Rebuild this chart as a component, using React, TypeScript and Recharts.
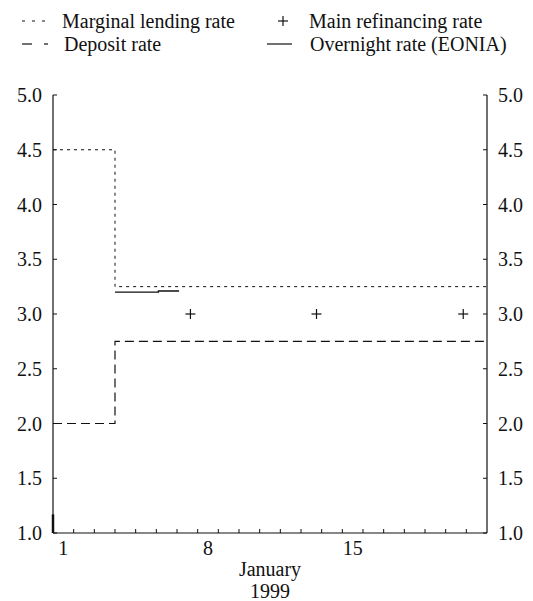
import React from 'react';
import { ComposedChart, Line, Scatter, XAxis, YAxis, ReferenceLine } from 'recharts';

// day 0 = start of 1 January 1999, one unit per day
const dayBoundaries = [0, 1, 2, 3, 4, 5, 6, 7, 8, 9, 10, 11, 12, 13, 14, 15, 16, 17, 18, 19, 20, 21];
const dayLabelPos = [0.5, 7.5, 14.5];
const dayLabels = ['1', '8', '15'];

const rateTicks = [1.0, 1.5, 2.0, 2.5, 3.0, 3.5, 4.0, 4.5, 5.0];

const marginalDays = [0, 3, 21];
const marginalRates = [4.5, 3.25, 3.25];

const depositDays = [0, 3, 21];
const depositRates = [2.0, 2.75, 2.75];

const mroDays = [6.65, 12.75, 19.85];
const mroRates = [3.0, 3.0, 3.0];

const eoniaDays = [3, 5.1, 6.1];
const eoniaRates = [3.2, 3.21, 3.21];

const zip = (xs: number[], ys: number[]) => xs.map((d, i) => ({ day: d, rate: ys[i] }));

const marginalData = zip(marginalDays, marginalRates);
const depositData = zip(depositDays, depositRates);
const mroData = zip(mroDays, mroRates);
const eoniaData = zip(eoniaDays, eoniaRates);

const FONT = 'Liberation Serif, DejaVu Serif, Noto Serif, serif';
const INK = '#111';

const LeftTick = (props: any) => {
  const { x, y, payload } = props;
  return (
    <g>
      <line x1={x + 11} x2={x + 15} y1={y} y2={y} stroke={INK} strokeWidth={1} />
      <text x={x} y={y} dy={7} textAnchor="end" fontFamily={FONT} fontSize={20} fill={INK}>
        {payload.value.toFixed(1)}
      </text>
    </g>
  );
};

const RightTick = (props: any) => {
  const { x, y, payload } = props;
  return (
    <g>
      <line x1={x - 11} x2={x - 15} y1={y} y2={y} stroke={INK} strokeWidth={1} />
      <text x={x} y={y} dy={7} textAnchor="start" fontFamily={FONT} fontSize={20} fill={INK}>
        {payload.value.toFixed(1)}
      </text>
    </g>
  );
};

const DayTick = (props: any) => {
  const { x, y, payload } = props;
  const v = payload.value;
  const li = dayLabelPos.indexOf(v);
  return (
    <g>
      {Number.isInteger(v) && v > 0 && v < 21 && (
        <line x1={x} x2={x} y1={y} y2={y - 4} stroke={INK} strokeWidth={1} />
      )}
      {li >= 0 && (
        <text x={x} y={y + 22} textAnchor="middle" fontFamily={FONT} fontSize={20} fill={INK}>
          {dayLabels[li]}
        </text>
      )}
    </g>
  );
};

const Plus = (props: any) => {
  const { cx, cy } = props;
  return (
    <g>
      <line x1={cx - 5} x2={cx + 5} y1={cy} y2={cy} stroke={INK} strokeWidth={1.2} />
      <line x1={cx} x2={cx} y1={cy - 5} y2={cy + 5} stroke={INK} strokeWidth={1.2} />
    </g>
  );
};

const MonthLabel = (props: any) => {
  const { viewBox } = props;
  const cx = viewBox.x + viewBox.width / 2;
  return (
    <g>
      <text x={cx} y={viewBox.y + 43} textAnchor="middle" fontFamily={FONT} fontSize={20} fill={INK}>
        January
      </text>
      <text x={cx} y={viewBox.y + 65} textAnchor="middle" fontFamily={FONT} fontSize={20} fill={INK}>
        1999
      </text>
    </g>
  );
};

const LegendBox = () => (
  <svg width={533} height={70} style={{ position: 'absolute', left: 0, top: 0 }}>
    <g fontFamily={FONT} fontSize={20} fill={INK}>
      <line x1={22} x2={50} y1={21} y2={21} stroke={INK} strokeWidth={1} strokeDasharray="3 7" />
      <text x={62} y={28}>Marginal lending rate</text>
      <line x1={278} x2={288} y1={21} y2={21} stroke={INK} strokeWidth={1.2} />
      <line x1={283} x2={283} y1={16} y2={26} stroke={INK} strokeWidth={1.2} />
      <text x={309} y={28}>Main refinancing rate</text>
      <line x1={22} x2={32} y1={44} y2={44} stroke={INK} strokeWidth={1.2} />
      <line x1={44} x2={48} y1={44} y2={44} stroke={INK} strokeWidth={1.2} />
      <text x={64} y={51}>Deposit rate</text>
      <line x1={267} x2={292} y1={44} y2={44} stroke={INK} strokeWidth={1.2} />
      <text x={310} y={51}>Overnight rate (EONIA)</text>
    </g>
  </svg>
);

export default function App() {
  return (
    <div style={{ position: 'absolute', left: 0, top: 0, width: 533, height: 601, background: '#fff', fontFamily: FONT }}>
      <ComposedChart width={533} height={601} margin={{ top: 95, right: 0, bottom: 0, left: 0 }}>
        <XAxis
          dataKey="day"
          type="number"
          domain={[0, 21]}
          ticks={[...dayBoundaries, ...dayLabelPos].sort((a, b) => a - b)}
          interval={0}
          height={68}
          tickSize={0}
          tickMargin={0}
          tickLine={false}
          tick={<DayTick />}
          axisLine={{ stroke: INK, strokeWidth: 1.2 }}
          allowDuplicatedCategory={false}
          label={<MonthLabel />}
        />
        <YAxis
          yAxisId="left"
          type="number"
          domain={[1, 5]}
          ticks={rateTicks}
          width={53}
          tickSize={0}
          tickMargin={11}
          tickLine={false}
          tick={<LeftTick />}
          axisLine={{ stroke: INK, strokeWidth: 1.2 }}
        />
        <YAxis
          yAxisId="right"
          orientation="right"
          type="number"
          domain={[1, 5]}
          ticks={rateTicks}
          width={46}
          tickSize={0}
          tickMargin={11}
          tickLine={false}
          tick={<RightTick />}
          axisLine={{ stroke: INK, strokeWidth: 1.2 }}
        />
        <ReferenceLine
          yAxisId="left"
          segment={[{ x: 0, y: 1.0 }, { x: 0, y: 1.17 }]}
          stroke={INK}
          strokeWidth={2.5}
        />
        <Line
          yAxisId="left"
          data={marginalData}
          dataKey="rate"
          type="stepAfter"
          stroke={INK}
          strokeWidth={1}
          strokeDasharray="3 4"
          dot={false}
          isAnimationActive={false}
        />
        <Line
          yAxisId="right"
          data={depositData}
          dataKey="rate"
          type="stepAfter"
          stroke={INK}
          strokeWidth={1.2}
          strokeDasharray="9 5"
          dot={false}
          isAnimationActive={false}
        />
        <Line
          yAxisId="left"
          data={eoniaData}
          dataKey="rate"
          type="stepAfter"
          stroke={INK}
          strokeWidth={1.3}
          dot={false}
          isAnimationActive={false}
        />
        <Scatter
          yAxisId="right"
          data={mroData}
          dataKey="rate"
          shape={<Plus />}
          isAnimationActive={false}
        />
      </ComposedChart>
      <LegendBox />
    </div>
  );
}
